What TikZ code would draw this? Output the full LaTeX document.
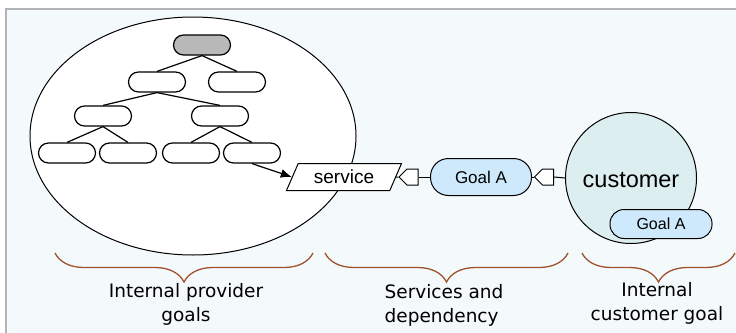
\documentclass[tikz,border=0pt]{standalone}
\usepackage{fontspec}
\setmainfont{Liberation Sans}
\newfontfamily\notefont{DejaVu Sans}
\usetikzlibrary{shapes.geometric,shapes.symbols,decorations.pathreplacing,arrows.meta}

\definecolor{framegray}{HTML}{B4B4B4}
\definecolor{paleback}{HTML}{F4F9FC}
\definecolor{goalblue}{HTML}{CDE9FB}
\definecolor{custfill}{HTML}{DDEEF0}
\definecolor{bracebrown}{HTML}{A0522D}

\tikzset{
  goal/.style={draw, rectangle, rounded corners=10pt, fill=white, minimum width=57pt, minimum height=20pt, line width=1.2pt},
  goalfilled/.style={draw, rectangle, rounded corners=14pt, fill=goalblue, line width=1pt, font=\fontsize{16}{18}\selectfont},
  depmark/.style={draw, signal, signal to=west, fill=white, minimum width=19pt, minimum height=16pt, inner sep=0pt, line width=1pt},
  bracket/.style={draw=bracebrown, line width=1.3pt, decorate, decoration={brace, amplitude=29pt}},
  bracetext/.style={font=\notefont\fontsize{18.5}{24}\selectfont}
}

\begin{document}
\begin{tikzpicture}[x=1pt, y=-1pt, line width=1.2pt]
  \useasboundingbox (0,0) rectangle (736,332);
  \draw[framegray, line width=2pt, fill=paleback] (6,9) rectangle (760,360);

  % provider side
  \node (provider) [draw, ellipse, fill=white, minimum width=326pt, minimum height=238pt, line width=1pt] at (193,136) {};

  \node (root) [goal, fill=gray!55] at (202,45) {};
  \node (a1) [goal] at (157,82) {};
  \node (a2) [goal] at (237,82) {};
  \node (b1) [goal] at (103,116) {};
  \node (b2) [goal] at (220,116) {};
  \node (c1) [goal] at (67,153) {};
  \node (c2) [goal] at (128,153) {};
  \node (c3) [goal] at (191,153) {};
  \node (c4) [goal] at (252,153) {};

  \draw (root.south) -- (a1.north);
  \draw (root.south) -- (a2.north);
  \draw (a1.south) -- (b1.north);
  \draw (a1.south) -- (b2.north);
  \draw (b1.south) -- (c1.north);
  \draw (b1.south) -- (c2.north);
  \draw (b2.south) -- (c3.north);
  \draw (b2.south) -- (c4.north);

  % services and dependency
  \node (service) [draw, trapezium, trapezium left angle=50, trapezium right angle=130, trapezium stretches body=true, fill=white, minimum width=115pt, minimum height=27pt, inner sep=0pt, line width=1pt, font=\fontsize{19}{21}\selectfont] at (344,177) {service};
  \node (dep1) [depmark] at (412.5,177) {};
  \node (goalA) [goalfilled, minimum width=101pt, minimum height=37pt, rounded corners=18pt, font=\fontsize{17}{19}\selectfont] at (481,177) {Goal A};
  \node (dep2) [depmark] at (548,177) {};

  % customer
  \node (customer) [draw, circle, fill=custfill, minimum size=131pt, line width=1pt] at (631,178) {};
  \node (custname) at (631,180) [font=\fontsize{23.5}{25}\selectfont] {customer};
  \node (goalB) [goalfilled, minimum width=102pt, minimum height=29pt] at (661,224) {Goal A};

  \draw [-{Latex[length=11pt,width=9pt]}] (c4.south) -- (service.west);
  \draw [line width=1pt] (service.east) -- (dep1.west);
  \draw [line width=1pt] (dep1.east) -- (goalA.west);
  \draw [line width=1pt] (goalA.east) -- (dep2.west);
  \draw [line width=1pt] (dep2.east) -- (customer.west);

  % braces and captions
  \draw [bracket] (313,253) -- (55,253);
  \draw [bracket] (568,253) -- (325,253);
  \draw [bracket] (735,253) -- (582,253);

  \node (provtext) [bracetext, align=center] at (186,304) {Internal provider\\goals};
  \node (servtext) [bracetext, align=left] at (444,305) {Services and\\dependency};
  \node (custtext) [bracetext, align=center] at (657,303) {Internal\\customer goal};
\end{tikzpicture}
\end{document}
